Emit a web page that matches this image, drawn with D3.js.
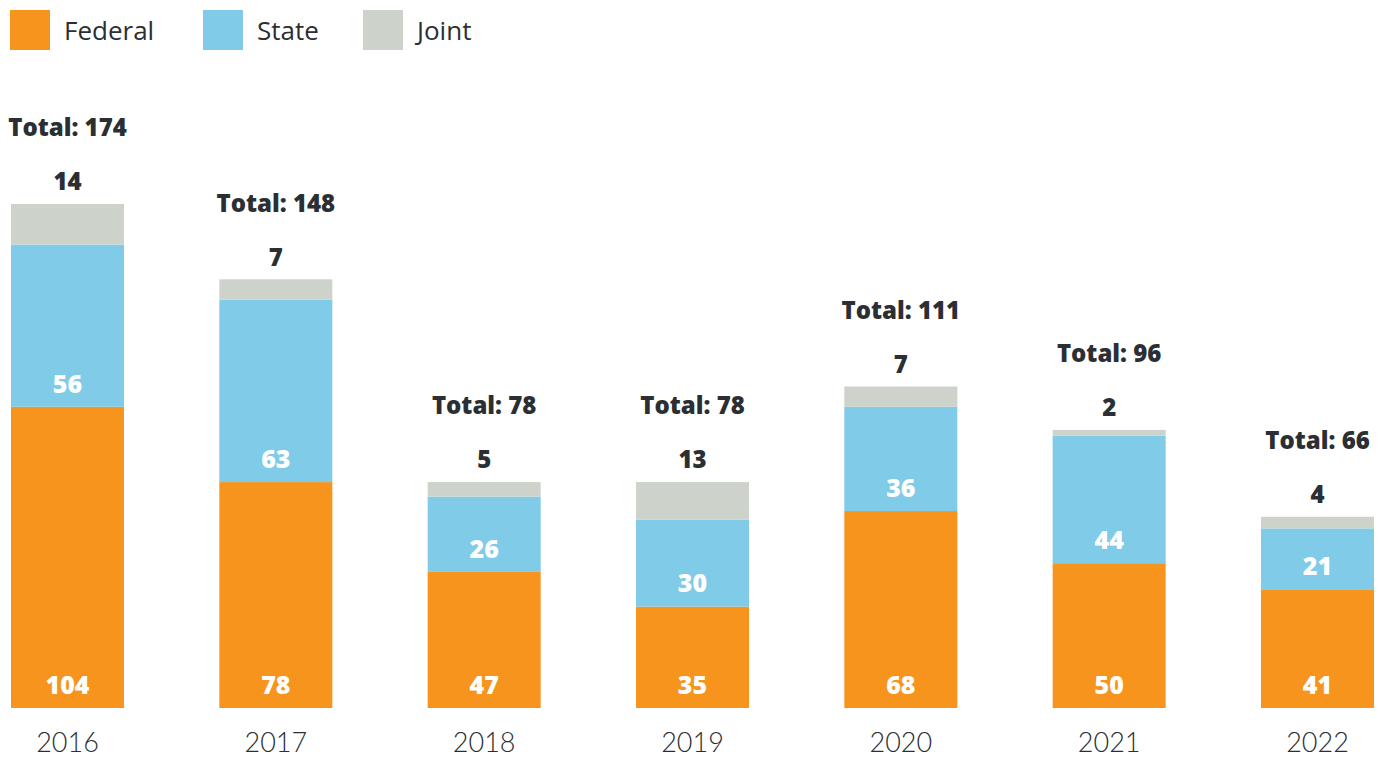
<!DOCTYPE html>
<html>
<head>
<meta charset="utf-8">
<script src="https://cdn.jsdelivr.net/npm/d3@7"></script>
<style>
  html, body { margin: 0; padding: 0; background: #ffffff; }
  svg { display: block; }
  text { font-family: "Open Sans", Lato, sans-serif; fill: #2b2f33; }
</style>
</head>
<body>
<svg id="chart" width="1387" height="757"></svg>
<script>
// Cases by jurisdiction, per year
const years = ["2016", "2017", "2018", "2019", "2020", "2021", "2022"];
const federal = [104, 78, 47, 35, 68, 50, 41];
const state = [56, 63, 26, 30, 36, 44, 21];
const joint = [14, 7, 5, 13, 7, 2, 4];
const seriesNames = ["Federal", "State", "Joint"];
const seriesColors = ["#f7941d", "#7fcbe8", "#cdd3cb"];

const rows = years.map((y, i) => ({ year: y, Federal: federal[i], State: state[i], Joint: joint[i] }));
const totals = rows.map(r => r.Federal + r.State + r.Joint);

const svg = d3.select("#chart");

const x = d3.scaleBand().domain(years).range([11, 1374]).paddingInner(0.4576).paddingOuter(0);
const y = d3.scaleLinear().domain([0, d3.max(totals)]).range([708, 204]);
const color = d3.scaleOrdinal().domain(seriesNames).range(seriesColors);

const stacked = d3.stack().keys(seriesNames)(rows);

const boldFont = "'Open Sans', Lato, sans-serif";

// Bars
const layers = svg.append("g").selectAll("g").data(stacked).join("g")
  .attr("fill", d => color(d.key));

layers.selectAll("rect").data(d => d.map(v => ({ key: d.key, v }))).join("rect")
  .attr("x", d => x(d.v.data.year))
  .attr("width", x.bandwidth())
  .attr("y", d => y(d.v[1]))
  .attr("height", d => y(d.v[0]) - y(d.v[1]));

// White labels inside Federal and State segments, near each segment's base
stacked.filter(s => s.key !== "Joint").forEach(s => {
  svg.append("g").selectAll("text").data(s).join("text")
    .attr("x", d => x(d.data.year) + x.bandwidth() / 2)
    .attr("y", d => y(d[0]) - 23)
    .attr("dy", "0.35em")
    .attr("text-anchor", "middle")
    .style("fill", "#ffffff")
    .style("font-family", boldFont)
    .style("font-weight", 800)
    .style("font-size", "25px")
    .text(d => d.data[s.key]);
});

// Joint values above each bar
const jointLayer = stacked.find(s => s.key === "Joint");
svg.append("g").selectAll("text").data(jointLayer).join("text")
  .attr("x", d => x(d.data.year) + x.bandwidth() / 2)
  .attr("y", d => y(d[1]) - 22)
  .attr("dy", "0.35em")
  .attr("text-anchor", "middle")
  .style("font-family", boldFont)
  .style("font-weight", 800)
  .style("font-size", "24px")
  .text(d => d.data.Joint);

// Totals
svg.append("g").selectAll("text").data(rows).join("text")
  .attr("x", d => x(d.year) + x.bandwidth() / 2)
  .attr("y", (d, i) => y(totals[i]) - 76)
  .attr("dy", "0.35em")
  .attr("text-anchor", "middle")
  .style("font-family", boldFont)
  .style("font-weight", 800)
  .style("font-size", "24px")
  .text((d, i) => "Total: " + totals[i]);

// Year axis
const xAxis = svg.append("g").attr("transform", "translate(0,708)")
  .call(d3.axisBottom(x).tickSize(0).tickPadding(25));
xAxis.select(".domain").remove();
xAxis.selectAll("text")
  .attr("dy", "0.71em")
  .style("font-family", "Lato, 'Open Sans', sans-serif")
  .style("font-size", "27px")
  .style("font-weight", 300)
  .style("fill", "#2b2f33");

// Legend
const legendX = [10, 203, 363];
const legend = svg.append("g").selectAll("g").data(seriesNames).join("g")
  .attr("transform", (d, i) => `translate(${legendX[i]},10)`);
legend.append("rect").attr("width", 40).attr("height", 40).attr("fill", d => color(d));
legend.append("text").attr("x", 54).attr("y", 21).attr("dy", "0.35em")
  .style("font-family", boldFont)
  .style("font-size", "26px")
  .style("font-weight", 400)
  .text(d => d);
</script>
</body>
</html>
